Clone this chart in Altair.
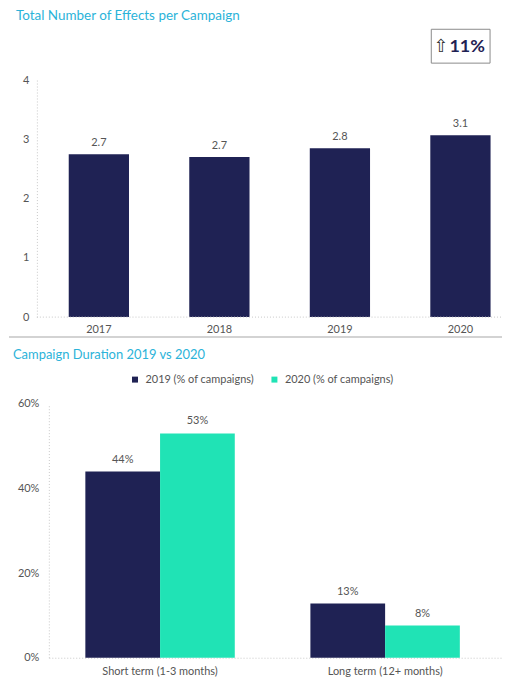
import altair as alt
import pandas as pd

# ---- data ----
years = ["2017", "2018", "2019", "2020"]
effects = [2.75, 2.7, 2.85, 3.07]
effect_labels = ["2.7", "2.7", "2.8", "3.1"]
top_ticks = [0, 1, 2, 3, 4]
change_arrow = ["⇧"]
change_value = ["11%"]

durations = ["Short term (1-3 months)", "Long term (12+ months)"]
series = ["2019 (% of campaigns)", "2020 (% of campaigns)"]
pct_2019 = [44, 12.8]
pct_2020 = [53, 7.6]
label_2019 = ["44%", "13%"]
label_2020 = ["53%", "8%"]
y_ticks = [0, 20, 40, 60]

# ---- style ----
navy = "#1f2254"
teal = "#20e3b5"
title_color = "#2bb3d9"
text_color = "#555555"
axis_color = "#c8c8c8"
FONT = "Lato"

top_df = pd.DataFrame({"year": years, "value": effects, "label": effect_labels})
one = pd.DataFrame({"arrow": change_arrow, "change": change_value})

W1, H1 = 455, 238
x1 = alt.X("year:N", sort=years, title=None,
           scale=alt.Scale(paddingInner=0.5, paddingOuter=0.13, align=0.635),
           axis=alt.Axis(labelAngle=0, ticks=False, domain=False,
                         labelPadding=6, labelFontSize=11, labelColor=text_color, labelFont=FONT))
y1 = alt.Y("value:Q", title=None, scale=alt.Scale(domain=[0, 4]),
           axis=alt.Axis(values=top_ticks, ticks=False, grid=False, domainDash=[1, 2],
                         domainColor=axis_color, labelPadding=8, labelFontSize=11, offset=12,
                         labelColor=text_color, labelFont=FONT))

bars1 = alt.Chart(top_df).mark_bar(color=navy).encode(x=x1, y=y1)
text1 = alt.Chart(top_df).mark_text(dy=-11, fontSize=11, color=text_color, font=FONT).encode(
    x=x1, y=y1, text="label:N")
base1 = alt.Chart(one).mark_rule(color=axis_color, strokeDash=[1, 2]).encode(
    x=alt.value(-12), x2=alt.value(W1), y=alt.value(H1))
box = alt.Chart(one).mark_rect(fill="white", stroke="#8a8a8a", strokeWidth=1).encode(
    x=alt.value(384), x2=alt.value(443), y=alt.value(-51), y2=alt.value(-17))
arrow = alt.Chart(one).mark_text(font="DejaVu Sans", fontSize=18, fontWeight="normal",
                                 color="#333333").encode(
    x=alt.value(394), y=alt.value(-33), text="arrow:N")
change = alt.Chart(one).mark_text(font=FONT, fontSize=18, fontWeight="bold", color=navy).encode(
    x=alt.value(420), y=alt.value(-33), text="change:N")
sep = alt.Chart(one).mark_rule(color="#c4c4c4", strokeWidth=1.5).encode(
    x=alt.value(-40), x2=alt.value(W1), y=alt.value(H1 + 20))

top = alt.layer(bars1, text1, base1, box, arrow, change, sep).properties(
    width=W1, height=H1,
    title=alt.TitleParams("Total Number of Effects per Campaign", anchor="start", frame="group",
                          dx=-33, fontSize=13.5, font=FONT, fontWeight="normal",
                          color=title_color, offset=6))

rows = []
for i, d in enumerate(durations):
    rows.append({"duration": d, "series": series[0], "value": pct_2019[i], "label": label_2019[i]})
    rows.append({"duration": d, "series": series[1], "value": pct_2020[i], "label": label_2020[i]})
bot_df = pd.DataFrame(rows)

W2, H2 = 454, 255
x2 = alt.X("duration:N", sort=durations, title=None,
           scale=alt.Scale(paddingInner=0.336, paddingOuter=0.1726, align=0.47),
           axis=alt.Axis(labelAngle=0, ticks=False, domainDash=[1, 2], domainColor=axis_color,
                         labelPadding=8, labelFontSize=11, labelColor=text_color, labelFont=FONT))
xo = alt.XOffset("series:N", sort=series, scale=alt.Scale(paddingInner=0, paddingOuter=0))
y2 = alt.Y("value:Q", title=None, scale=alt.Scale(domain=[0, 60]),
           axis=alt.Axis(values=y_ticks, labelExpr="datum.value + '%'", ticks=False, grid=False,
                         domainDash=[1, 2], domainColor=axis_color, labelPadding=10,
                         labelFontSize=11, labelColor=text_color, labelFont=FONT))
col = alt.Color("series:N", sort=series, scale=alt.Scale(domain=series, range=[navy, teal]),
                legend=alt.Legend(title=None, orient="none", legendX=81, legendY=-30, padding=0,
                                  direction="horizontal", symbolType="square", symbolSize=36,
                                  symbolStrokeWidth=0, labelFontSize=11, labelColor=text_color,
                                  labelFont=FONT, columnPadding=14, labelOffset=5))

bars2 = alt.Chart(bot_df).mark_bar().encode(x=x2, xOffset=xo, y=y2, color=col)
text2 = alt.Chart(bot_df).mark_text(dy=-12, fontSize=11, color=text_color, font=FONT).encode(
    x=x2, xOffset=xo, y=y2, text="label:N")
anchor = alt.Chart(one).mark_rule(color="white").encode(
    x=alt.value(-40), x2=alt.value(-39), y=alt.value(H2))

bottom = alt.layer(bars2, text2, anchor).properties(
    width=W2, height=H2,
    title=alt.TitleParams("Campaign Duration 2019 vs 2020", anchor="start", frame="group",
                          dx=-36, fontSize=13, font=FONT, fontWeight="normal",
                          color=title_color, offset=12))

chart = alt.vconcat(top, bottom, spacing=11).resolve_scale(
    color="independent", x="independent", y="independent"
).properties(
    padding={"left": 0, "top": 0, "right": 0, "bottom": 0}
).configure_view(stroke=None)

chart.save("out.html", embed_options={"renderer": "svg", "actions": False})
